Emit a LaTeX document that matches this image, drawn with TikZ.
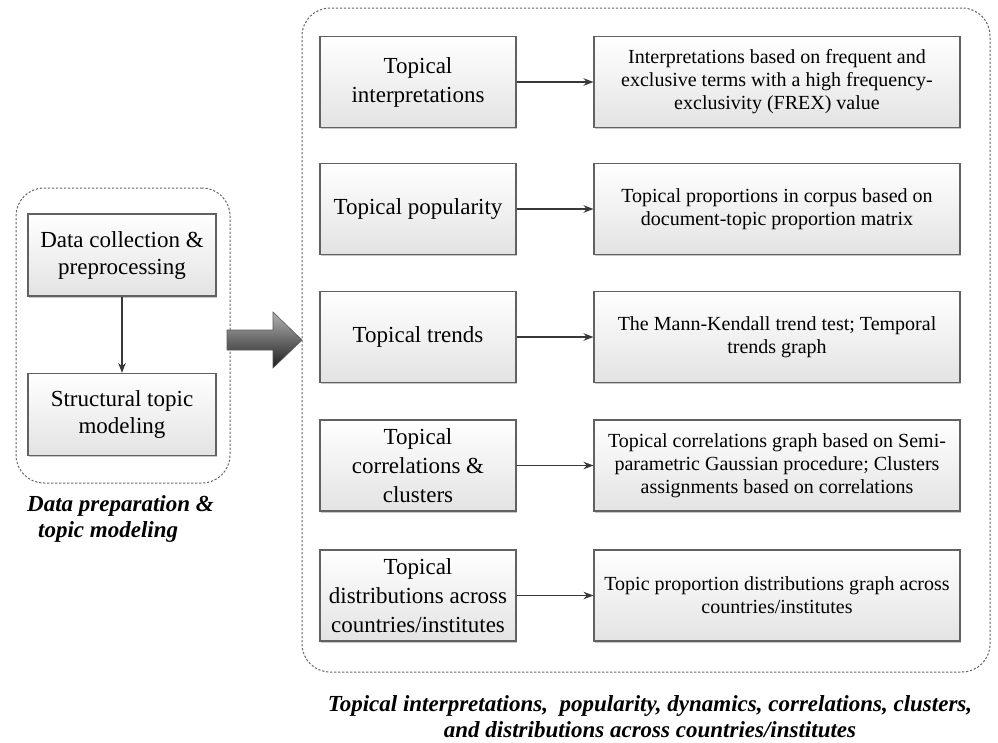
\documentclass[tikz,border=0pt]{standalone}
\usepackage{fontspec}
\setmainfont{Liberation Serif}
\usetikzlibrary{arrows.meta,shadows}
\newcommand\lbfont{\fontsize{23}{29}\selectfont}
\newcommand\ldfont{\fontsize{23}{27}\selectfont}
\newcommand\rbfont{\fontsize{20}{23}\selectfont}
\newcommand\capfont{\fontsize{23}{26.5}\selectfont\bfseries\itshape}
\begin{document}
\begin{tikzpicture}[x=1pt,y=-1pt,
  box/.style={rectangle, draw=black!62, line width=1.1pt, top color=white, bottom color=black!11,
    drop shadow={shadow xshift=1.3pt, shadow yshift=-1.6pt, opacity=0.22, fill=black},
    align=center, inner sep=0pt},
  lbox/.style={box, minimum width=196, minimum height=91, font=\lbfont},
  rbox/.style={box, minimum width=366, minimum height=91, font=\rbfont},
  dbox/.style={box, minimum width=188, minimum height=82, font=\ldfont},
  container/.style={rectangle, draw=black!60, line width=1pt, dash pattern=on 2.2pt off 1.8pt,
    rounded corners=28pt, inner sep=0pt},
  conn/.style={draw=black!78, line width=1.3pt, -{Stealth[length=10pt,width=7.5pt]}},
  caption/.style={font=\capfont, inner sep=0pt}
]
\useasboundingbox (0,0) rectangle (998,742);
\fill[white] (0,0) rectangle (998,742);

% containers
\node[container, minimum width=214, minimum height=295] (lc) at (123,335.5) {};
\node[container, minimum width=688, minimum height=664] (rc) at (646,340) {};

% left panel
\node[dbox] (d1) at (122,255) {Data collection \&\\preprocessing};
\node[dbox] (d2) at (122,414.5) {Structural topic\\modeling};
\draw[conn] (d1) -- (d2);

% right panel, left column
\node[lbox] (t1) at (418,82) {Topical\\interpretations};
\node[lbox] (t2) at (418,209) {Topical popularity};
\node[lbox] (t3) at (418,337) {Topical trends};
\node[lbox] (t4) at (418,465.5) {Topical\\correlations \&\\clusters};
\node[lbox] (t5) at (418,595.5) {Topical\\distributions across\\countries/institutes};

% right panel, right column
\node[rbox] (r1) at (777,82) {Interpretations based on frequent and\\exclusive terms with a high frequency-\\exclusivity (FREX) value};
\node[rbox] (r2) at (777,209) {Topical proportions in corpus based on\\document-topic proportion matrix};
\node[rbox] (r3) at (777,337) {The Mann-Kendall trend test; Temporal\\trends graph};
\node[rbox] (r4) at (777,465.5) {Topical correlations graph based on Semi-\\parametric Gaussian procedure; Clusters\\assignments based on correlations};
\node[rbox] (r5) at (777,595.5) {Topic proportion distributions graph across\\countries/institutes};

\foreach \i in {1,...,5} {\draw[conn] (t\i) -- (r\i);}

% big block arrow between the two containers
\shade[top color=black!30, bottom color=black!88, draw=black!65, line width=0.6pt]
  (227,330) -- (273,330) -- (273,312) -- (302,340) -- (273,368) -- (273,350) -- (227,350) -- cycle;

% captions
\node[caption, align=left, anchor=north west] (lcap) at (27,495) {Data preparation \&\\\hspace*{11pt}topic modeling};
\node[caption, align=center] (rcap) at (650,716.5) {Topical interpretations,\ \ popularity, dynamics, correlations, clusters,\\and distributions across countries/institutes};
\end{tikzpicture}
\end{document}
